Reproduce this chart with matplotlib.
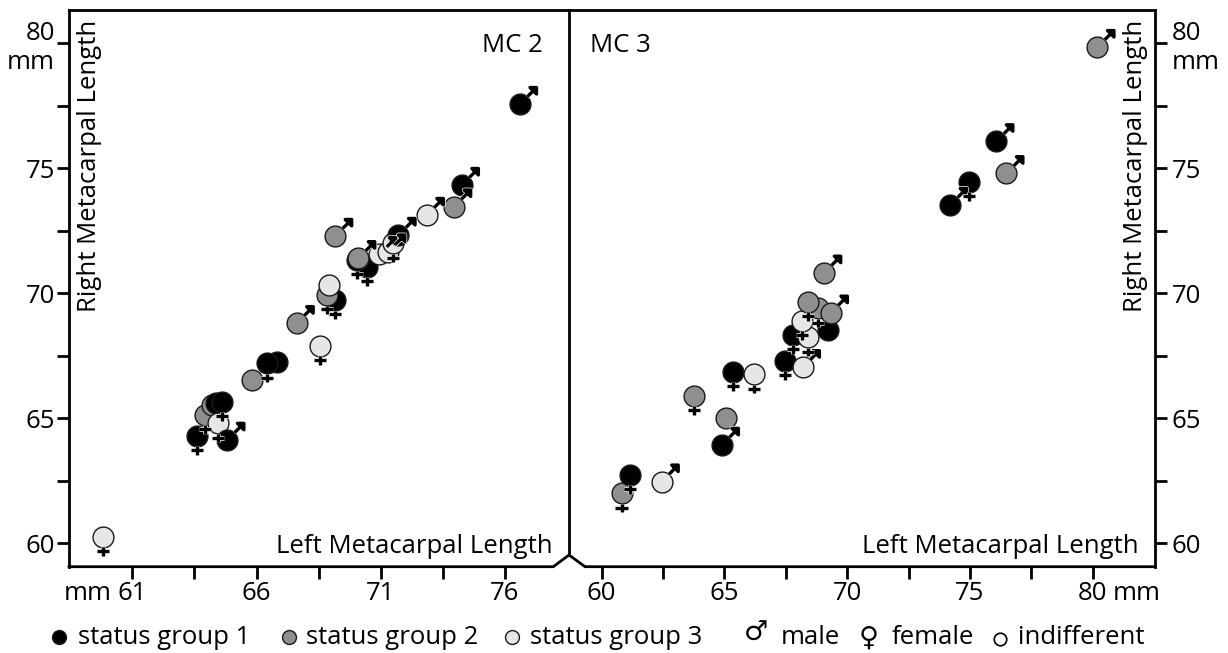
import matplotlib
matplotlib.use("Agg")
import matplotlib.pyplot as plt
from matplotlib.path import Path
from matplotlib.lines import Line2D
import matplotlib.patheffects as pe

plt.rcParams['font.family'] = ['Open Sans', 'DejaVu Sans']
FS = 18.5

# ---------------- data: MC 2 (left panel) ----------------
mc2_left_len = [59.83, 63.92, 64.19, 64.35, 64.60, 64.45, 63.59, 64.82, 65.80, 66.81,
                66.41, 68.55, 67.61, 69.16, 68.82, 68.93, 70.46, 70.03, 70.09, 70.94,
                71.30, 71.50, 71.71, 69.16, 72.85, 73.95, 74.26, 76.60]
mc2_right_len = [60.26, 65.13, 65.53, 65.60, 65.66, 64.80, 64.29, 64.13, 66.53, 67.26,
                 67.20, 67.89, 68.80, 69.73, 69.93, 70.33, 71.06, 71.33, 71.40, 71.56,
                 71.67, 72.00, 72.33, 72.29, 73.13, 73.47, 74.33, 77.57]
mc2_status = [3, 2, 2, 1, 1, 3, 1, 1, 2, 1,
              1, 3, 2, 1, 2, 3, 1, 1, 2, 3,
              3, 3, 1, 2, 3, 2, 1, 1]
mc2_sex = ['f', 'f', 'i', 'i', 'f', 'f', 'f', 'm', 'i', 'i',
           'f', 'f', 'm', 'f', 'f', 'i', 'f', 'f', 'm', 'm',
           'm', 'f', 'm', 'm', 'm', 'm', 'm', 'm']

# ---------------- data: MC 3 (right panel) ----------------
mc3_left_len = [60.81, 61.15, 62.44, 64.89, 65.05, 63.76, 65.36, 66.20, 67.47, 68.19,
                67.78, 69.23, 68.42, 68.15, 68.82, 69.33, 68.42, 69.06, 74.19, 74.98,
                76.48, 76.07, 80.19]
mc3_right_len = [62.00, 62.73, 62.46, 63.93, 65.02, 65.89, 66.86, 66.76, 67.29, 67.04,
                 68.33, 68.53, 68.24, 68.89, 69.40, 69.22, 69.66, 70.82, 73.53, 74.46,
                 74.80, 76.08, 79.85]
mc3_status = [2, 1, 3, 1, 2, 2, 1, 3, 1, 3,
              1, 1, 3, 3, 2, 2, 2, 2, 1, 1,
              2, 1, 2]
mc3_sex = ['f', 'f', 'm', 'm', 'i', 'f', 'f', 'f', 'f', 'm',
           'f', 'i', 'f', 'f', 'f', 'm', 'f', 'm', 'm', 'f',
           'm', 'm', 'm']

# axis ticks
y_ticks = [60, 62.5, 65, 67.5, 70, 72.5, 75, 77.5, 80]
y_ticklabels = ['60', '', '65', '', '70', '', '75', '', '80\nmm']
mc2_x_ticks = [61, 63.5, 66, 68.5, 71, 73.5, 76]
mc2_x_ticklabels = ['61', '', '66', '', '71', '', '76']
mc3_x_ticks = [60, 62.5, 65, 67.5, 70, 72.5, 75, 77.5, 80]
mc3_x_ticklabels = ['60', '', '65', '', '70', '', '75', '', '80']

status_colors = {1: '#000000', 2: '#8f8f8f', 3: '#e6e6e6'}
status_names = ['status group 1', 'status group 2', 'status group 3']

W, H = 1228, 653
fig = plt.figure(figsize=(W / 100, H / 100), dpi=100)


def fx(px):
    return px / W


def fy(py):
    return 1 - py / H


top_px, bot_px = 10, 566.7
axL = fig.add_axes([fx(69), fy(bot_px), (569 - 69) / W, (bot_px - top_px) / H])
axR = fig.add_axes([fx(569), fy(bot_px), (1155 - 569) / W, (bot_px - top_px) / H])

M, L, C = Path.MOVETO, Path.LINETO, Path.CLOSEPOLY
male_path = Path([(2, 2), (-2, -2), (0.72, 0.72), (1.25, 1.25),
                  (1.6, 1.6), (0.98, 1.6), (1.6, 0.98), (1.6, 1.6)],
                 [M, M, M, L, M, L, L, C])
female_path = Path([(2, 2), (-2, -2), (0, -1.0), (0, -1.82),
                    (-0.58, -1.38), (0.58, -1.38)],
                   [M, M, M, L, M, L])

CIRC_MS = 15.0


def draw_panel(ax, xs, ys, st, sx):
    for i, (x, y, s) in enumerate(zip(xs, ys, st)):
        ax.plot([x], [y], ls='none', marker='o', ms=CIRC_MS, mfc=status_colors[s],
                mec='#1a1a1a', mew=1.0, zorder=3 + i * 0.01, clip_on=False)
    for i, (x, y, g) in enumerate(zip(xs, ys, sx)):
        if g == 'i':
            continue
        p = male_path if g == 'm' else female_path
        ax.plot([x], [y], ls='none', marker=p, ms=CIRC_MS * 2, mfc='k', mec='k',
                mew=2.4, zorder=4 + i * 0.01, clip_on=False,
                path_effects=[pe.withStroke(linewidth=3.4, foreground='white')])


draw_panel(axL, mc2_left_len, mc2_right_len, mc2_status, mc2_sex)
draw_panel(axR, mc3_left_len, mc3_right_len, mc3_status, mc3_sex)

axL.set_xlim(58.45, 78.58)
axR.set_xlim(58.67, 82.54)
for ax in (axL, axR):
    ax.set_ylim(59.06, 81.34)
    ax.set_yticks(y_ticks)
    ax.set_yticklabels(y_ticklabels)
    ax.tick_params(direction='out', length=8.5, width=2, labelsize=FS, colors='k')
    ax.tick_params(axis='x', pad=1.5)
    for sp in ax.spines.values():
        sp.set_linewidth(2)
    ax.spines['bottom'].set_visible(False)

axL.set_xticks(mc2_x_ticks)
axL.set_xticklabels(mc2_x_ticklabels)
axR.set_xticks(mc3_x_ticks)
axR.set_xticklabels(mc3_x_ticklabels)

axL.spines['right'].set_visible(False)
axR.spines['left'].set_visible(False)
axL.tick_params(axis='y', pad=1.5)
axR.yaxis.tick_right()
axR.tick_params(axis='y', pad=3.5)
for lbl in axL.get_yticklabels():
    lbl.set_multialignment('right')
for lbl in axR.get_yticklabels():
    lbl.set_multialignment('left')

# frame: bottom line with notch and the divider
frame_kw = dict(transform=fig.transFigure, color='k', lw=2, solid_joinstyle='miter',
                solid_capstyle='projecting')
fig.add_artist(Line2D([fx(69), fx(553.3), fx(569), fx(585), fx(1155)],
                      [fy(bot_px), fy(bot_px), fy(555), fy(bot_px), fy(bot_px)], **frame_kw))
fig.add_artist(Line2D([fx(569), fx(569)], [fy(top_px), fy(555)], **frame_kw))

# "mm" additions to the x tick labels
axL.annotate('mm', xy=(0, 0.5), xycoords=axL.get_xticklabels()[0], xytext=(-4, 0),
             textcoords='offset points', ha='right', va='center', fontsize=FS)
axR.annotate('mm', xy=(1, 0.5), xycoords=axR.get_xticklabels()[-1], xytext=(4, 0),
             textcoords='offset points', ha='left', va='center', fontsize=FS)

# panel texts
fig.text(fx(90), fy(20), 'Right Metacarpal Length', rotation=90, ha='center', va='top', fontsize=FS)
fig.text(fx(1136), fy(20), 'Right Metacarpal Length', rotation=90, ha='center', va='top', fontsize=FS)
fig.text(fx(543), fy(45), 'MC 2', ha='right', va='center', fontsize=FS)
fig.text(fx(590), fy(45), 'MC 3', ha='left', va='center', fontsize=FS)
fig.text(fx(553), fy(553), 'Left Metacarpal Length', ha='right', va='baseline', fontsize=FS)
fig.text(fx(1139), fy(553), 'Left Metacarpal Length', ha='right', va='baseline', fontsize=FS)

# legend row
LY = 637
leg_dot_x = [58.5, 288.5, 512]
leg_txt_x = [78, 306, 530]
for s, dx, tx, name in zip([1, 2, 3], leg_dot_x, leg_txt_x, status_names):
    fig.add_artist(Line2D([fx(dx)], [fy(LY)], transform=fig.transFigure, ls='none', marker='o',
                          ms=10, mfc=status_colors[s], mec='#1a1a1a', mew=1.0))
    fig.text(fx(tx), fy(LY), name, ha='left', va='center', fontsize=FS)
fig.text(fx(756), fy(LY - 3), '\u2642', ha='center', va='center', fontsize=FS + 1,
         family=['DejaVu Sans'])
fig.text(fx(781), fy(LY), 'male', ha='left', va='center', fontsize=FS)
fig.text(fx(869), fy(LY + 2), '\u2640', ha='center', va='center', fontsize=FS + 1,
         family=['DejaVu Sans'])
fig.text(fx(892), fy(LY), 'female', ha='left', va='center', fontsize=FS)
fig.add_artist(Line2D([fx(1000)], [fy(LY + 2)], transform=fig.transFigure, ls='none', marker='o',
                      ms=9, mfc='white', mec='k', mew=1.2))
fig.text(fx(1018), fy(LY), 'indifferent', ha='left', va='center', fontsize=FS)

fig.savefig('out.png', dpi=100)
